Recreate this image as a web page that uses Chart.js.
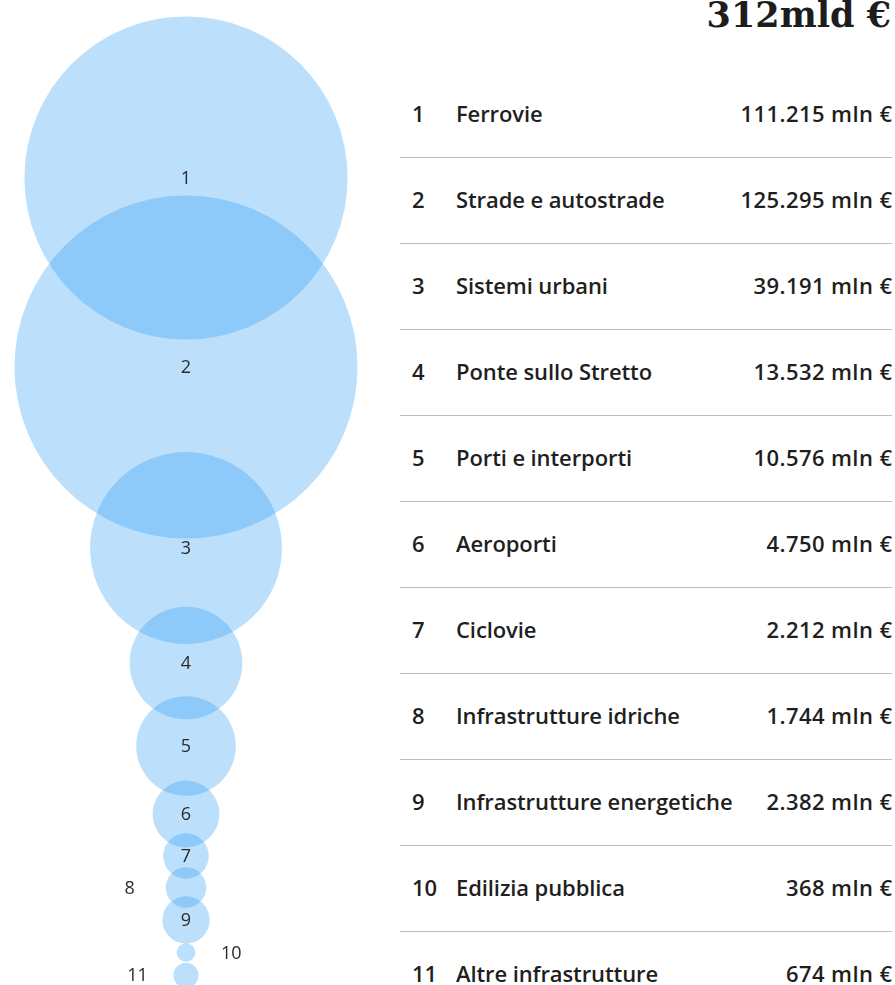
<!DOCTYPE html>
<html lang="it">
<head>
<meta charset="utf-8">
<script src="https://cdn.jsdelivr.net/npm/chart.js@4/dist/chart.umd.min.js"></script>
<style>
  html, body { margin: 0; padding: 0; background: #fff; }
  body { width: 895px; height: 985px; position: relative; overflow: hidden; }
  #bubbleBox { position: absolute; left: 0; top: 0; width: 372px; height: 985px; }
  #title {
    position: absolute; right: 4px; top: -6px;
    font-family: "DejaVu Serif", serif; font-weight: bold; font-size: 35px;
    color: #1d1d1d;
  }
  #table { position: absolute; left: 400px; top: 72px; width: 492px; }
  .row {
    height: 86px; box-sizing: border-box; border-bottom: 1px solid #bdbdbd;
    display: flex; align-items: center; padding-bottom: 4px;
    font-family: "Open Sans", sans-serif; font-weight: 600; font-size: 22px; color: #1f1f1f;
  }
  .row:last-child { border-bottom: none; }
  .num { width: 56px; padding-left: 12px; box-sizing: border-box; }
  .name { flex: 1; letter-spacing: -0.1px; }
  .val { text-align: right; letter-spacing: 0.4px; margin-right: -0.4px; }
</style>
</head>
<body>
<div id="bubbleBox"><canvas id="bubbles"></canvas></div>
<div id="title"></div>
<div id="table"></div>
<script>
// Investimenti per settore (milioni di euro)
const ids = ["1", "2", "3", "4", "5", "6", "7", "8", "9", "10", "11"];
const sectors = [
  "Ferrovie", "Strade e autostrade", "Sistemi urbani", "Ponte sullo Stretto",
  "Porti e interporti", "Aeroporti", "Ciclovie", "Infrastrutture idriche",
  "Infrastrutture energetiche", "Edilizia pubblica", "Altre infrastrutture"
];
const amounts = [111215, 125295, 39191, 13532, 10576, 4750, 2212, 1744, 2382, 368, 674];
const totalLabel = "312mld €";

// vertical stacking of the circles along the column (axis units, top = 0)
const stackY = [178, 367, 548, 663, 746, 814, 856, 887.5, 920, 952.5, 975.3];

const MAX_R = 171.5;
const maxAmount = Math.max(...amounts);
const radiusOf = v => MAX_R * Math.sqrt(v / maxAmount);
const fmt = v => v.toLocaleString("it-IT").replace(/\u00a0/g, " ") + " mln €";

document.getElementById("title").textContent = totalLabel;
const table = document.getElementById("table");
ids.forEach((id, i) => {
  const row = document.createElement("div");
  row.className = "row";
  row.innerHTML = `<span class="num">${id}</span><span class="name">${sectors[i]}</span><span class="val">${fmt(amounts[i])}</span>`;
  table.appendChild(row);
});

// Bubble controller that lets circles run to the canvas edges
// instead of reserving padding for the largest radius.
class EdgeBubbleController extends Chart.BubbleController {
  getMaxOverflow() { return false; }
}
EdgeBubbleController.id = "edgeBubble";
EdgeBubbleController.defaults = Chart.BubbleController.defaults;
EdgeBubbleController.overrides = Chart.BubbleController.overrides;
Chart.register(EdgeBubbleController);

const bubbleLabels = {
  id: "bubbleLabels",
  afterDatasetsDraw(chart) {
    const ctx = chart.ctx;
    const meta = chart.getDatasetMeta(0);
    ctx.save();
    ctx.font = '400 18px "Open Sans", sans-serif';
    ctx.fillStyle = "#2b2b2b";
    ctx.textAlign = "center";
    ctx.textBaseline = "middle";
    let side = -1;
    meta.data.forEach((pt, i) => {
      const r = radiusOf(amounts[i]);
      let x = pt.x;
      if (r < 21.5) {
        x = pt.x + side * (r + 36);
        side = -side;
      }
      ctx.fillText(ids[i], x, pt.y + 1);
    });
    ctx.restore();
  }
};

new Chart(document.getElementById("bubbles"), {
  type: "edgeBubble",
  data: {
    datasets: [{
      data: amounts.map((v, i) => ({ x: 0, y: stackY[i], r: radiusOf(v) })),
      backgroundColor: "rgba(33, 150, 243, 0.3)",
      borderWidth: 0,
      hoverBorderWidth: 0,
      hoverRadius: 0
    }]
  },
  options: {
    responsive: true,
    maintainAspectRatio: false,
    animation: false,
    events: [],
    layout: { padding: 0 },
    clip: false,
    scales: {
      x: { type: "linear", min: -186, max: 186, display: false },
      y: { type: "linear", min: 0, max: 985, reverse: true, display: false }
    },
    plugins: { legend: { display: false }, tooltip: { enabled: false } }
  },
  plugins: [bubbleLabels]
});
</script>
</body>
</html>
